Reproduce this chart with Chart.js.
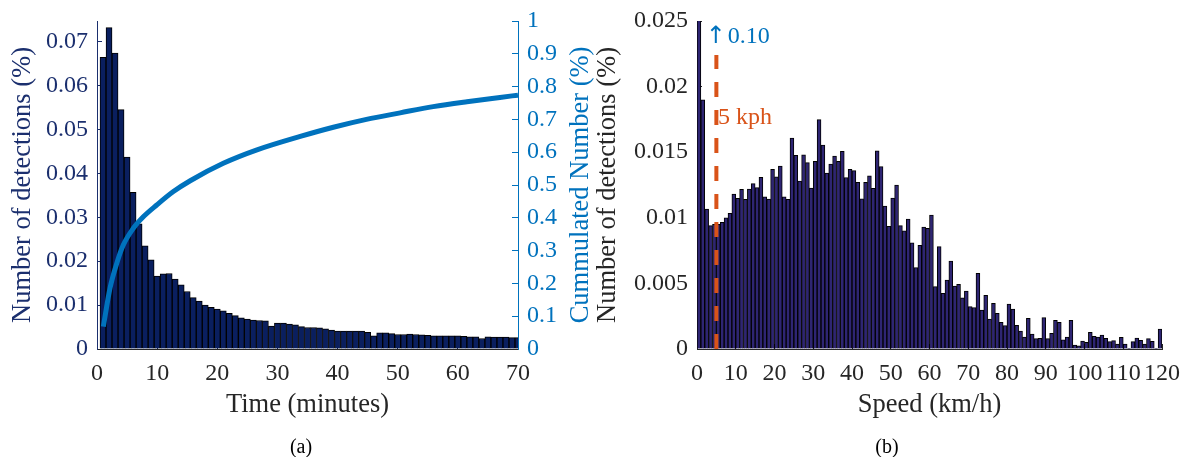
<!DOCTYPE html>
<html>
<head>
<meta charset="utf-8">
<script src="https://cdn.jsdelivr.net/npm/chart.js@4"></script>
<style>
  body { margin: 0; background: #fff; }
  #wrap { position: relative; width: 1189px; height: 457px; }
  canvas { position: absolute; top: 0; }
  .cap { position: absolute; top: 432px; width: 60px; margin-left: -30px; text-align: center;
         font: 20px "Liberation Serif", "Times New Roman", serif; line-height: 28px; color: #000; }
</style>
</head>
<body>
<div id="wrap">
  <canvas id="chartA" style="left:0; width:597px; height:457px" width="597" height="457"></canvas>
  <canvas id="chartB" style="left:588px; width:601px; height:457px" width="601" height="457"></canvas>
  <div class="cap" style="left:301px">(a)</div>
  <div class="cap" style="left:887px">(b)</div>
</div>
<script>
// (a) share of detections per minute of stay (bin centres 1..70)
const timeMinutes = [];
for (let t = 1; t <= 70; t++) timeMinutes.push(t);
const timeShare = [
  0.0664, 0.0732, 0.0674, 0.0545, 0.0437, 0.0357, 0.0285, 0.0235, 0.0203, 0.0166,
  0.0171, 0.0172, 0.0159, 0.0146, 0.0131, 0.0117, 0.0109, 0.0100, 0.0095, 0.0091,
  0.0087, 0.0081, 0.0076, 0.0071, 0.0068, 0.0066, 0.0065, 0.0064, 0.0052, 0.0059,
  0.0059, 0.0057, 0.0055, 0.0051, 0.0049, 0.0049, 0.0048, 0.0046, 0.0043, 0.0041,
  0.0041, 0.0041, 0.0041, 0.0041, 0.0038, 0.0030, 0.0037, 0.0037, 0.0035, 0.0033,
  0.0033, 0.0034, 0.0033, 0.0032, 0.0031, 0.0030, 0.0030, 0.0030, 0.0030, 0.0030,
  0.0029, 0.0028, 0.0028, 0.0024, 0.0028, 0.0027, 0.0027, 0.0027, 0.0026, 0.0026
];
// cumulated curve
const cumTime = [1.05, 2.16, 3.28, 4.37, 6.04, 7.7, 9.93, 12.7, 15.5, 21, 26.6, 33.8, 39.3, 44.8, 50.4, 55.9, 61.5, 67, 70];
const cumValue = [0.068, 0.185, 0.261, 0.317, 0.368, 0.403, 0.439, 0.48, 0.513, 0.566, 0.607, 0.648, 0.676, 0.700, 0.720, 0.739, 0.754, 0.767, 0.774];

// (b) share of detections per 1 km/h speed bin (0-1 ... 119-120)
const speedBins = [];
for (let s = 0; s < 120; s++) speedBins.push(s + 0.5);
const speedShare = [
  0.10, 0.0190, 0.01067, 0.0094, 0.0095, 0.0095, 0.00966, 0.0100, 0.01034, 0.01181,
  0.01148, 0.01217, 0.0114, 0.01219, 0.0126, 0.0123, 0.01309, 0.01159, 0.01143, 0.0137,
  0.01313, 0.01395, 0.0116, 0.0114, 0.01608, 0.01476, 0.0128, 0.0148, 0.0142, 0.01227,
  0.0143, 0.01748, 0.01555, 0.0134, 0.0141, 0.0147, 0.0143, 0.01507, 0.01306, 0.0137,
  0.0136, 0.0127, 0.01145, 0.0127, 0.0132, 0.01224, 0.0151, 0.0139, 0.0109, 0.00935,
  0.0115, 0.0125, 0.0094, 0.0090, 0.0099, 0.0081, 0.0062, 0.0079, 0.0093, 0.0092,
  0.01021, 0.00475, 0.0078, 0.00424, 0.00526, 0.0067, 0.0048, 0.00493, 0.0039, 0.00442,
  0.00323, 0.00315, 0.00577, 0.00297, 0.00409, 0.00229, 0.00348, 0.00272, 0.00203, 0.00178,
  0.00343, 0.00305, 0.0018, 0.00137, 0.00091, 0.00234, 0.00114, 0.00079, 0.00081, 0.00239,
  0.00079, 0.0012, 0.00219, 0.00203, 0.00069, 0.00091, 0.00219, 0.0003, 0.00025, 0.00061,
  0.00051, 0.00127, 0.00097, 0.00091, 0.00107, 0.00081, 0.00056, 0.00064, 0.00038, 0.00089,
  0.00038, 0.00005, 0.00056, 0.00084, 0.00066, 0.00038, 0.00079, 0.00059, 0.00005, 0.00152
];
const thresholdSpeed = 5;

const FONT = '"Liberation Serif", "Times New Roman", serif';
const NAVY = '#1b2f6e';
const BLUE = '#0072BD';
const DARK = '#262626';
const ORANGE = '#D95319';
const fmt = v => String(+v.toFixed(4));

// fixed box sizes, no extra padding from tick labels
const fixW = w => s => { s.width = w; s.paddingTop = 0; s.paddingBottom = 0; };
const fixH = h => s => { s.height = h; s.paddingLeft = 0; s.paddingRight = 0; };

const rightTitle = {
  id: 'rightTitle',
  afterDraw(chart) {
    const { ctx, chartArea } = chart;
    ctx.save();
    ctx.translate(581, (chartArea.top + chartArea.bottom) / 2);
    ctx.rotate(-Math.PI / 2);
    ctx.font = '26.5px ' + FONT;
    ctx.fillStyle = BLUE;
    ctx.textAlign = 'center';
    ctx.textBaseline = 'middle';
    ctx.fillText('Cummulated Number (%)', 0, 0);
    ctx.restore();
  }
};

new Chart(document.getElementById('chartA'), {
  data: {
    datasets: [{
      type: 'line',
      data: cumTime.map((t, i) => ({ x: t, y: cumValue[i] })),
      yAxisID: 'y1',
      borderColor: BLUE,
      borderWidth: 5,
      pointRadius: 0,
      cubicInterpolationMode: 'monotone',
      order: 0
    }, {
      type: 'bar',
      data: timeMinutes.map((t, i) => ({ x: t, y: timeShare[i] })),
      yAxisID: 'y',
      backgroundColor: '#0a1f5f',
      borderColor: '#000',
      borderWidth: 1,
      barPercentage: 1,
      categoryPercentage: 1,
      order: 1
    }]
  },
  options: {
    responsive: false,
    animation: false,
    layout: { padding: { left: 0, top: 21, right: 0, bottom: 0 } },
    plugins: { legend: { display: false }, tooltip: { enabled: false } },
    scales: {
      x: {
        type: 'linear', min: 0, max: 70, offset: false,
        ticks: { stepSize: 10, color: DARK, font: { family: FONT, size: 24 }, padding: 15, maxRotation: 0 },
        grid: { drawOnChartArea: false, offset: false, tickLength: -5, color: DARK },
        border: { color: DARK },
        title: { display: true, text: 'Time (minutes)', color: DARK, font: { family: FONT, size: 26.5 }, padding: { top: 0, bottom: 36 } },
        afterFit: fixH(108)
      },
      y: {
        position: 'left', min: 0, max: 0.0747,
        ticks: { stepSize: 0.01, includeBounds: false, callback: fmt, color: NAVY, font: { family: FONT, size: 24 }, padding: 14 },
        grid: { drawOnChartArea: false, tickLength: -5, color: NAVY },
        border: { color: NAVY },
        title: { display: true, text: 'Number of detections (%)', color: NAVY, font: { family: FONT, size: 26.5 }, padding: { top: 7, bottom: 0 } },
        afterFit: fixW(97)
      },
      y1: {
        position: 'right', min: 0, max: 1,
        ticks: { stepSize: 0.1, callback: fmt, color: BLUE, font: { family: FONT, size: 24 }, padding: 15 },
        grid: { drawOnChartArea: false, tickLength: -6, color: BLUE },
        border: { color: BLUE },
        afterFit: fixW(79)
      }
    }
  },
  plugins: [rightTitle]
});

const notes = {
  id: 'notes',
  afterDatasetsDraw(chart) {
    const { ctx, scales: { x, y } } = chart;
    ctx.save();
    ctx.textAlign = 'left';
    ctx.textBaseline = 'middle';
    ctx.fillStyle = BLUE;
    const ax = x.getPixelForValue(2.75);
    const ay = y.getPixelForValue(0.0238);
    ctx.font = '24px "DejaVu Sans", sans-serif';
    ctx.fillText('\u2191', ax - 2, ay);
    ctx.font = '24px ' + FONT;
    ctx.fillText('0.10', ax + 20, ay);
    ctx.fillStyle = ORANGE;
    ctx.fillText('5 kph', x.getPixelForValue(5.4), y.getPixelForValue(0.0176));
    ctx.restore();
  }
};

new Chart(document.getElementById('chartB'), {
  data: {
    datasets: [{
      type: 'line',
      data: [{ x: thresholdSpeed, y: 0 }, { x: thresholdSpeed, y: 0.0224 }],
      borderColor: ORANGE,
      borderWidth: 4,
      borderDash: [15, 13],
      pointRadius: 0,
      order: 0
    }, {
      type: 'bar',
      data: speedBins.map((s, i) => ({ x: s, y: speedShare[i] })),
      backgroundColor: '#2e2573',
      borderColor: '#000',
      borderWidth: 1,
      barPercentage: 1,
      categoryPercentage: 1,
      order: 1
    }]
  },
  options: {
    responsive: false,
    animation: false,
    layout: { padding: { left: 0, top: 21, right: 27, bottom: 0 } },
    plugins: { legend: { display: false }, tooltip: { enabled: false } },
    scales: {
      x: {
        type: 'linear', min: 0, max: 120, offset: false,
        ticks: { stepSize: 10, autoSkip: false, color: DARK, font: { family: FONT, size: 24 }, padding: 15, maxRotation: 0 },
        grid: { drawOnChartArea: false, offset: false, tickLength: -5, color: DARK },
        border: { color: DARK },
        title: { display: true, text: 'Speed (km/h)', color: DARK, font: { family: FONT, size: 26.5 }, padding: { top: 0, bottom: 36 } },
        afterFit: fixH(108)
      },
      y: {
        position: 'left', min: 0, max: 0.025,
        ticks: { stepSize: 0.005, callback: fmt, color: DARK, font: { family: FONT, size: 24 }, padding: 14 },
        grid: { drawOnChartArea: false, tickLength: -5, color: DARK },
        border: { color: DARK },
        title: { display: true, text: 'Number of detections (%)', color: DARK, font: { family: FONT, size: 26.5 }, padding: { top: 4, bottom: 0 } },
        afterFit: fixW(109)
      }
    }
  },
  plugins: [notes]
});
</script>
</body>
</html>
